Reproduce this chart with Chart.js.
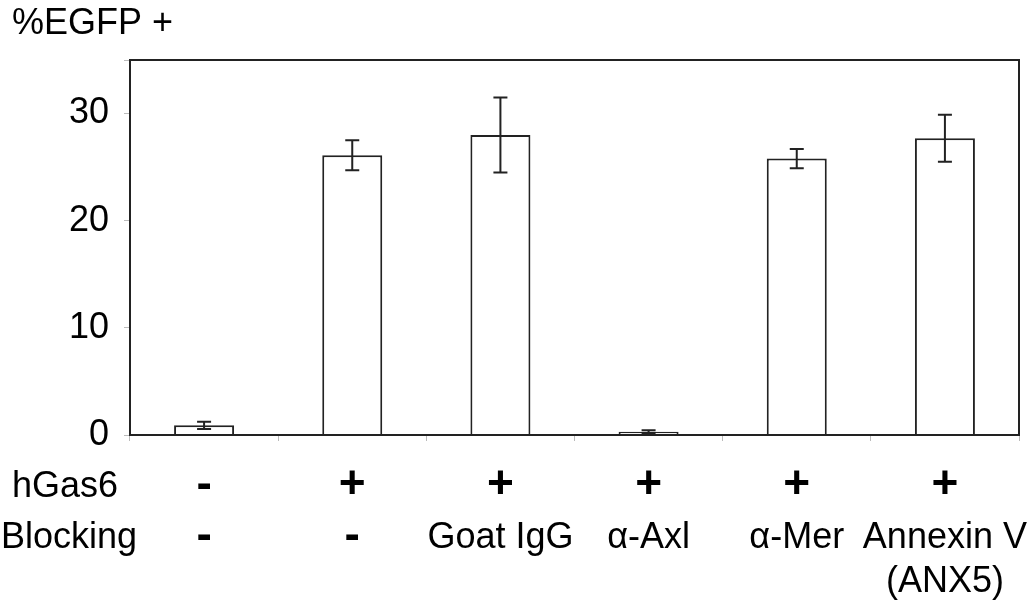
<!DOCTYPE html>
<html>
<head>
<meta charset="utf-8">
<script src="https://cdn.jsdelivr.net/npm/chart.js@4/dist/chart.umd.min.js"></script>
<style>
  html, body { margin: 0; padding: 0; background: #fff; }
  #wrap { width: 1029px; height: 601px; }
</style>
</head>
<body>
<div id="wrap"><canvas id="egfpChart"></canvas></div>
<script>
const categories = ["ctrl", "hGas6", "Goat IgG", "α-Axl", "α-Mer", "Annexin V"];
const egfpValues = [0.9, 26.1, 28.0, 0.3, 25.8, 27.7];
const egfpErrors = [0.33, 1.4, 3.5, 0.15, 0.9, 2.2];
const hGas6Row = ["-", "+", "+", "+", "+", "+"];
const blockingRow = [["-"], ["-"], ["Goat IgG"], ["α-Axl"], ["α-Mer"], ["Annexin V", "(ANX5)"]];
const yTicks = [0, 10, 20, 30];

const FONT = "'Liberation Sans', Arial, sans-serif";

const errorBars = {
    id: "errorBars",
    afterDatasetsDraw(chart) {
        const ctx = chart.ctx;
        const y = chart.scales.y;
        const meta = chart.getDatasetMeta(0);
        ctx.save();
        ctx.strokeStyle = "#222";
        ctx.lineWidth = 2;
        meta.data.forEach((bar, i) => {
            const top = y.getPixelForValue(egfpValues[i] + egfpErrors[i]);
            const bot = y.getPixelForValue(egfpValues[i] - egfpErrors[i]);
            ctx.beginPath();
            ctx.moveTo(bar.x, top);
            ctx.lineTo(bar.x, bot);
            ctx.moveTo(bar.x - 7, top);
            ctx.lineTo(bar.x + 7, top);
            ctx.moveTo(bar.x - 7, bot);
            ctx.lineTo(bar.x + 7, bot);
            ctx.stroke();
        });
        ctx.restore();
    }
};

// box around the plot + the hGas6 / Blocking table under it
const frameAndLabels = {
    id: "frameAndLabels",
    afterDraw(chart) {
        const ctx = chart.ctx;
        const area = chart.chartArea;
        const x = chart.scales.x;
        ctx.save();
        ctx.strokeStyle = "#222";
        ctx.lineWidth = 2;
        ctx.strokeRect(area.left, area.top, area.right - area.left, area.bottom - area.top);

        ctx.fillStyle = "#000";
        ctx.textBaseline = "middle";
        ctx.font = "36px " + FONT;
        ctx.textAlign = "left";
        ctx.fillText("%EGFP +", 12, 24);
        ctx.fillText("hGas6", 12, 487);
        ctx.fillText("Blocking", 1, 538);

        ctx.textAlign = "center";
        categories.forEach((c, i) => {
            const cx = x.getPixelForValue(i);
            ctx.font = "bold 46px " + FONT;
            ctx.fillText(hGas6Row[i], cx, 485);
            blockingRow[i].forEach((line, j) => {
                const isSign = line === "-" || line === "+";
                ctx.font = (isSign ? "bold 46px " : "36px ") + FONT;
                ctx.fillText(line, cx, (isSign ? 536 : 538) + j * 44);
            });
        });
        ctx.restore();
    }
};

new Chart(document.getElementById("egfpChart"), {
    type: "bar",
    data: {
        labels: categories,
        datasets: [{
            data: egfpValues,
            backgroundColor: "#fff",
            borderColor: "#222",
            borderWidth: 2,
            barPercentage: 0.405,
            categoryPercentage: 1,
        }],
    },
    options: {
        responsive: true,
        maintainAspectRatio: false,
        animation: false,
        layout: {
            padding: { top: 60, right: 10, left: 0, bottom: 0 },
        },
        plugins: {
            legend: { display: false },
            tooltip: { enabled: false },
        },
        scales: {
            x: {
                grid: {
                    offset: true,
                    drawOnChartArea: false,
                    color: "#bbb",
                    tickLength: 6,
                },
                border: { display: false },
                ticks: { display: false },
                afterFit: (scale) => { scale.height = 166; },
            },
            y: {
                min: 0,
                max: 35,
                grid: {
                    drawOnChartArea: false,
                    color: "#bbb",
                    tickLength: 6,
                },
                border: { display: false },
                ticks: {
                    stepSize: 10,
                    color: "#000",
                    padding: 15,
                    font: { family: FONT, size: 36 },
                    callback: (v) => yTicks.includes(v) ? v : "",
                },
                afterFit: (scale) => { scale.width = 130; },
            },
        },
    },
    plugins: [errorBars, frameAndLabels],
});
</script>
</body>
</html>
